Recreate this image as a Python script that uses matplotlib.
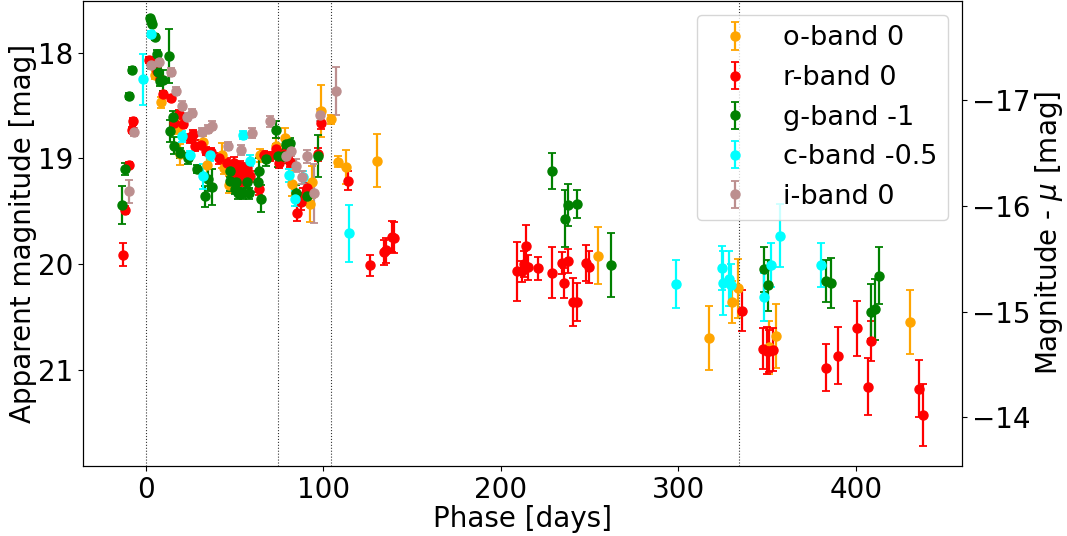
import matplotlib
matplotlib.use("Agg")
import matplotlib.pyplot as plt
import numpy as np

# ---- data ----
o_phase = [5.1, 8.8, 17.8, 19.3, 32.5, 34.5, 43.2, 44.3, 47.0, 64.7, 73.7, 78.6, 82.5, 92.7, 94.0,
           98.6, 104.6, 108.3, 112.7, 130.5, 254.6, 317.4, 330.3, 333.7, 351.3, 355.3, 430.3]
o_mag = [18.21, 18.47, 18.71, 18.96, 18.84, 19.06, 18.97, 19.09, 19.25, 18.97, 18.88, 18.81, 19.24, 19.43, 19.22,
         18.55, 18.63, 19.03, 19.08, 19.02, 19.92, 20.70, 20.36, 20.23, 20.79, 20.68, 20.55]
o_err = [0.04, 0.05, 0.06, 0.1, 0.05, 0.12, 0.12, 0.06, 0.08, 0.06, 0.07, 0.1, 0.12, 0.17, 0.15,
         0.25, 0.04, 0.05, 0.16, 0.25, 0.27, 0.3, 0.2, 0.28, 0.25, 0.3, 0.3]

r_phase = [-12.6, -11.8, -9.6, -7.7, -6.9, 1.9, 3.9, 6.6, 8.4, 9.6, 14.1, 15.9, 19.0, 21.0, 25.0, 26.8, 28.1,
           31.0, 33.8, 37.0, 41.3, 46.0, 49.7, 50.5, 51.6, 53.1, 53.5, 55.0, 57.2, 59.1, 64.0, 66.6, 70.3,
           73.3, 75.2, 76.0, 79.3, 80.9, 81.6, 85.4, 87.6, 88.7, 91.0, 97.0, 98.9, 113.9, 126.6, 134.5,
           135.5, 138.8, 139.7, 209.2, 211.8, 213.3, 214.4, 215.5, 221.2, 229.0, 234.3, 235.8, 238.0,
           241.0, 242.9, 248.2, 250.0, 336.1, 348.0, 350.2, 351.3, 353.2, 383.0, 390.0, 400.9, 407.0,
           408.6, 435.8, 437.6]
r_mag = [19.91, 19.49, 19.06, 18.73, 18.65, 18.07, 18.08, 18.17, 18.25, 18.39, 18.43, 18.66, 18.58, 18.67,
         18.81, 18.77, 18.88, 18.87, 18.93, 18.94, 19.0, 19.04, 19.04, 19.18, 19.12, 19.07, 19.21, 19.15,
         19.09, 19.17, 19.29, 18.97, 18.98, 18.91, 19.04, 18.97, 18.95, 18.94, 19.03, 19.52, 19.41, 19.36,
         19.28, 18.96, 18.66, 19.21, 20.01, 19.89, 19.87, 19.74, 19.75, 20.07, 20.07, 20.0, 19.83, 20.03,
         20.04, 20.08, 19.99, 20.18, 19.97, 20.36, 20.36, 19.99, 20.03, 20.44, 20.80, 20.82, 20.82, 20.81,
         20.98, 20.87, 20.61, 21.16, 20.73, 21.18, 21.43]
r_err = [0.11, 0.04, 0.03, 0.03, 0.03,
         0.03, 0.03, 0.03, 0.03, 0.03, 0.03, 0.04, 0.04, 0.04, 0.04, 0.04, 0.05, 0.04, 0.04, 0.04, 0.05, 0.04,
         0.05, 0.05, 0.05, 0.05, 0.05, 0.05, 0.05, 0.05, 0.06,
         0.04, 0.04, 0.05, 0.05, 0.05, 0.05, 0.05, 0.05,
         0.07, 0.08, 0.08, 0.05, 0.06, 0.06,
         0.09, 0.1, 0.12, 0.12, 0.15, 0.15,
         0.28, 0.1, 0.12, 0.2, 0.12, 0.11, 0.24, 0.1, 0.14, 0.11, 0.23, 0.18, 0.17, 0.15,
         0.19, 0.19, 0.22, 0.2, 0.2, 0.22, 0.27, 0.26, 0.27, 0.19, 0.27, 0.29]

g_phase = [-13.1, -11.8, -9.4, -7.9, 2.4, 3.2, 3.9, 5.4, 6.2, 6.9, 8.4, 9.9, 13.3, 13.9, 15.2, 15.9, 19.3,
           24.0, 29.1, 33.2, 35.1, 37.3, 47.8, 47.8, 50.1, 51.2, 51.9, 55.0, 57.2, 58.4, 63.2, 64.0, 65.1,
           68.1, 73.7, 74.5, 77.5, 79.3, 81.6, 85.0, 91.0, 97.0, 229.0, 236.4, 237.7, 243.1, 262.1, 348.2,
           350.6, 383.0, 386.0, 408.4, 410.8, 412.9]
g_mag = [19.44, 19.10, 18.41, 18.16, 17.67, 17.70, 17.73, 17.85, 18.01, 18.18, 18.27, 18.26, 18.03, 18.74,
         18.61, 18.88, 18.95, 19.0, 19.10, 19.36, 19.19, 19.27, 19.12, 19.21, 19.29, 19.22, 19.33, 19.33,
         19.22, 19.33, 19.22, 19.12, 19.38, 19.01, 18.73, 18.98, 18.98, 18.86, 18.85, 19.33, 19.36, 18.98,
         19.12, 19.57, 19.44, 19.43, 20.01, 20.05, 20.20, 20.16, 20.18, 20.45, 20.43, 20.11]
g_err = [0.18, 0.06, 0.03, 0.03,
         0.02, 0.02, 0.02, 0.03, 0.04, 0.04, 0.04, 0.1,
         0.26, 0.1, 0.06, 0.08, 0.05, 0.05, 0.04,
         0.1, 0.12, 0.17,
         0.06, 0.1, 0.05, 0.08, 0.05, 0.05, 0.06, 0.05,
         0.1, 0.12, 0.13, 0.06,
         0.08, 0.1, 0.06, 0.04, 0.04,
         0.08, 0.08, 0.2,
         0.17, 0.27, 0.2, 0.13, 0.3, 0.21, 0.24, 0.2, 0.24, 0.26, 0.29, 0.27]

c_phase = [-1.3, 2.8, 20.6, 25.0, 32.6, 36.2, 54.7, 58.7, 80.9, 84.4, 88.4, 114.4, 298.5, 324.5, 325.4,
           328.3, 329.8, 348.5, 352.4, 357.5, 380.4]
c_mag = [18.25, 17.82, 18.79, 18.97, 19.17, 18.97, 18.78, 19.02, 19.16, 19.38, 19.18, 19.71, 20.19, 20.04,
         20.18, 20.14, 20.20, 20.31, 20.01, 19.73, 20.01]
c_err = [0.24, 0.03, 0.05, 0.04, 0.12, 0.05, 0.04, 0.05, 0.06, 0.07, 0.06, 0.27, 0.23, 0.21, 0.3, 0.26,
         0.2, 0.23, 0.21, 0.3, 0.21]

i_phase = [-9.4, -6.7, 3.2, 7.5, 14.1, 17.4, 20.3, 23.5, 26.3, 31.9, 35.1, 37.4, 46.2, 54.0, 60.2, 70.0,
           79.0, 82.0, 85.0, 88.1, 91.0, 94.9, 98.3, 107.3]
i_mag = [19.31, 18.75, 18.12, 18.09, 18.18, 18.36, 18.50, 18.61, 18.57, 18.75, 18.72, 18.69, 18.88, 18.92,
         18.76, 18.65, 18.98, 18.93, 19.07, 19.18, 18.98, 19.33, 18.59, 18.36]
i_err = [0.11, 0.04, 0.03, 0.03, 0.04, 0.04, 0.04, 0.04, 0.04, 0.04, 0.04, 0.04, 0.04, 0.05, 0.05, 0.05,
         0.05, 0.05, 0.06, 0.06, 0.06, 0.28, 0.06, 0.23]

labels = ["o-band 0", "r-band 0", "g-band -1", "c-band -0.5", "i-band 0"]
colors = ["orange", "red", "green", "cyan", "rosybrown"]
epochs = [0, 74.5, 104.5, 334]
mu = 35.45

# ---- plot ----
FS = 20
fig = plt.figure(figsize=(10.67, 5.36), dpi=100)
ax = fig.add_axes([0.078, 0.131, 0.8236, 0.867])

bands = [(o_phase, o_mag, o_err), (r_phase, r_mag, r_err), (g_phase, g_mag, g_err),
         (c_phase, c_mag, c_err), (i_phase, i_mag, i_err)]
for (p, m, e), lab, col in zip(bands, labels, colors):
    ax.errorbar(p, m, yerr=e, fmt='o', color=col, ms=6.5, capsize=3, elinewidth=1.6,
                capthick=1.3, label=lab)

for ep in epochs:
    ax.axvline(ep, color='black', ls=':', lw=0.8, alpha=0.8)

ax.set_xlim(-35.1, 459.8)
ax.set_ylim(21.91, 17.51)
ax.set_yticks([18, 19, 20, 21])
ax.set_xticks([0, 100, 200, 300, 400])
ax.tick_params(labelsize=FS)
ax.set_xlabel("Phase [days]", fontsize=FS, labelpad=1)
ax.set_ylabel("Apparent magnitude [mag]", fontsize=FS, labelpad=1)

ax2 = ax.twinx()
lo, hi = ax.get_ylim()
ax2.set_ylim(lo - mu, hi - mu)
ax2.set_yticks([-17, -16, -15, -14])
ax2.tick_params(labelsize=FS)
ax2.set_ylabel(r"Magnitude - $\mu$ [mag]", fontsize=FS, labelpad=2)

ax.legend(loc='upper right', fontsize=19.5)

fig.savefig("out.png", dpi=100)
